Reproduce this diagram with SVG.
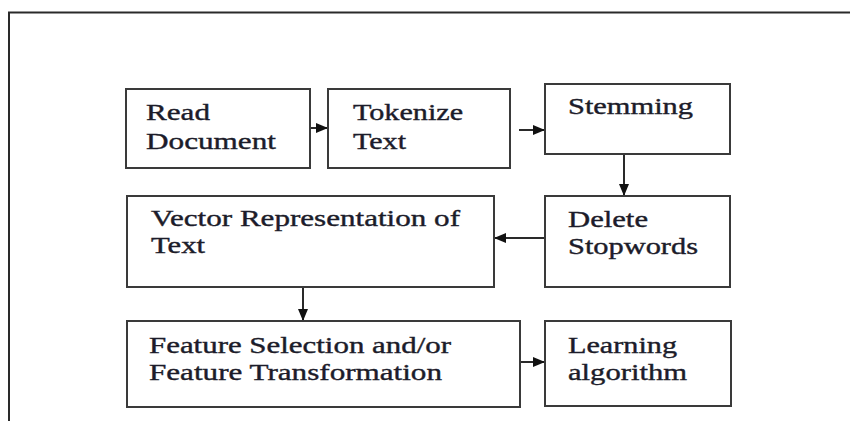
<svg xmlns="http://www.w3.org/2000/svg" width="850" height="421" viewBox="0 0 850 421">
<defs>
<style>
.box{fill:#fff;stroke:#3a3a3a;stroke-width:2}
.frame{fill:none;stroke:#2a2a2a;stroke-width:2}
.t{font-family:'Liberation Serif',serif;font-size:24px;fill:#1c1c2a;stroke:#1c1c2a;stroke-width:0.4}
.c{stroke:#2a2a2a;stroke-width:2;fill:none;marker-end:url(#ah)}
</style>
<marker id="ah" markerWidth="12" markerHeight="12" viewBox="0 0 12 12" refX="12" refY="6" orient="auto" markerUnits="userSpaceOnUse">
<path d="M0,1 L12,6 L0,11 Z" fill="#111"/>
</marker>
</defs>
<rect width="850" height="421" fill="#fff"/>
<path class="frame" d="M9,421 V12.5 H850"/>
<g id="connectors">
<line class="c" x1="310" y1="128" x2="328" y2="128"/>
<line class="c" x1="519" y1="130" x2="545" y2="130"/>
<line class="c" x1="624" y1="154" x2="624" y2="196"/>
<line class="c" x1="545" y1="238" x2="494" y2="238"/>
<line class="c" x1="303" y1="287" x2="303" y2="321"/>
<line class="c" x1="520" y1="362" x2="545" y2="362"/>
</g>
<g id="read">
<rect class="box" x="126" y="89" width="184" height="79"/>
<text class="t" x="146" y="120" textLength="64" lengthAdjust="spacingAndGlyphs">Read</text>
<text class="t" x="146" y="149" textLength="130" lengthAdjust="spacingAndGlyphs">Document</text>
</g>
<g id="tokenize">
<rect class="box" x="328" y="89" width="182" height="79"/>
<text class="t" x="353" y="120" textLength="110" lengthAdjust="spacingAndGlyphs">Tokenize</text>
<text class="t" x="353" y="149" textLength="53" lengthAdjust="spacingAndGlyphs">Text</text>
</g>
<g id="stemming">
<rect class="box" x="545" y="84" width="185" height="70"/>
<text class="t" x="568" y="114" textLength="125" lengthAdjust="spacingAndGlyphs">Stemming</text>
</g>
<g id="delete">
<rect class="box" x="545" y="196" width="185" height="91"/>
<text class="t" x="568" y="227" textLength="80" lengthAdjust="spacingAndGlyphs">Delete</text>
<text class="t" x="568" y="254" textLength="130" lengthAdjust="spacingAndGlyphs">Stopwords</text>
</g>
<g id="vector">
<rect class="box" x="127" y="196" width="367" height="91"/>
<text class="t" x="151" y="226" textLength="309" lengthAdjust="spacingAndGlyphs">Vector Representation of</text>
<text class="t" x="151" y="253" textLength="54" lengthAdjust="spacingAndGlyphs">Text</text>
</g>
<g id="feature">
<rect class="box" x="127" y="321" width="393" height="86"/>
<text class="t" x="149" y="353" textLength="302" lengthAdjust="spacingAndGlyphs">Feature Selection and/or</text>
<text class="t" x="149" y="380" textLength="293" lengthAdjust="spacingAndGlyphs">Feature Transformation</text>
</g>
<g id="learning">
<rect class="box" x="545" y="321" width="186" height="85"/>
<text class="t" x="568" y="353" textLength="109" lengthAdjust="spacingAndGlyphs">Learning</text>
<text class="t" x="568" y="380" textLength="119" lengthAdjust="spacingAndGlyphs">algorithm</text>
</g>
</svg>
